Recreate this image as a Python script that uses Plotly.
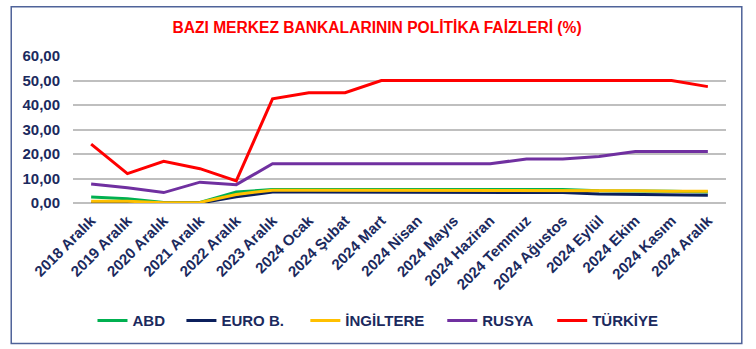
import plotly.graph_objects as go

categories = ["2018 Aralık", "2019 Aralık", "2020 Aralık", "2021 Aralık", "2022 Aralık",
              "2023 Aralık", "2024 Ocak", "2024 Şubat", "2024 Mart", "2024 Nisan",
              "2024 Mayıs", "2024 Haziran", "2024 Temmuz", "2024 Ağustos", "2024 Eylül",
              "2024 Ekim", "2024 Kasım", "2024 Aralık"]

abd = [2.50, 1.75, 0.25, 0.25, 4.50, 5.50, 5.50, 5.50, 5.50, 5.50, 5.50, 5.50, 5.50, 5.50, 5.00, 5.00, 4.75, 4.50]
euro = [0.00, 0.00, 0.00, 0.00, 2.50, 4.50, 4.50, 4.50, 4.50, 4.50, 4.50, 4.25, 4.25, 4.25, 3.65, 3.40, 3.40, 3.15]
ingiltere = [0.75, 0.75, 0.10, 0.25, 3.50, 5.25, 5.25, 5.25, 5.25, 5.25, 5.25, 5.25, 5.25, 5.00, 5.00, 5.00, 4.75, 4.75]
rusya = [7.75, 6.25, 4.25, 8.50, 7.50, 16.00, 16.00, 16.00, 16.00, 16.00, 16.00, 16.00, 18.00, 18.00, 19.00, 21.00, 21.00, 21.00]
turkiye = [24.00, 12.00, 17.00, 14.00, 9.00, 42.50, 45.00, 45.00, 50.00, 50.00, 50.00, 50.00, 50.00, 50.00, 50.00, 50.00, 50.00, 47.50]

series_names = ["ABD", "EURO B.", "İNGİLTERE", "RUSYA", "TÜRKİYE"]
series_values = [abd, euro, ingiltere, rusya, turkiye]
colors = ["#00B050", "#0B1F5C", "#FFC000", "#7030A0", "#FF0000"]
legend_ids = ["legend", "legend2", "legend3", "legend4", "legend5"]

W, H = 756, 349
ml, mr, mt, mb = 72.5, 30.1, 56.3, 146.3
pw = W - ml - mr
ph = H - mt - mb

def px_x(x):
    return (x - ml) / pw

def px_y(y):
    return (H - mb - y) / ph

navy = "#1B2A5E"
font_fam = "Liberation Sans, Arial, sans-serif"

fig = go.Figure()
for name, vals, col, lg in zip(series_names, series_values, colors, legend_ids):
    fig.add_trace(go.Scatter(
        x=categories, y=vals, name=name, mode="lines",
        line=dict(color=col, width=3),
        legend=lg,
    ))

legend_starts = [92, 181, 305, 442, 552]
layout_legends = {}
for lg, xs in zip(legend_ids, legend_starts):
    layout_legends[lg] = dict(
        x=px_x(xs), y=px_y(320), xanchor="left", yanchor="middle",
        orientation="h", bgcolor="rgba(0,0,0,0)", borderwidth=0,
        font=dict(family=font_fam, size=15, color=navy, weight="bold"),
        itemclick=False, itemdoubleclick=False,
    )

fig.update_layout(
    width=W, height=H,
    margin=dict(l=ml, r=mr, t=mt, b=mb, pad=0),
    paper_bgcolor="white", plot_bgcolor="white",
    separators=",.",
    showlegend=True,
    title=dict(
        text="BAZI MERKEZ BANKALARININ POLİTİKA FAİZLERİ (%)",
        x=px_x(376.7), xanchor="center", xref="paper",
        y=1 - 28 / H, yanchor="middle",
        font=dict(family=font_fam, size=15.6, color="#FF0000", weight="bold"),
    ),
    xaxis=dict(
        type="category", showgrid=False, showline=False, zeroline=False,
        tickangle=-45, ticks="", ticklabelstandoff=5,
        tickfont=dict(family=font_fam, size=15, color=navy, weight="bold"),
        range=[-0.5, len(categories) - 0.5],
    ),
    yaxis=dict(
        range=[0, 60], dtick=10, tickformat=".2f",
        showgrid=True, gridcolor="#BFBFBF", gridwidth=1.5,
        zeroline=True, zerolinecolor="#BFBFBF", zerolinewidth=1.5,
        showline=False, ticks="", ticklabelstandoff=12,
        tickfont=dict(family=font_fam, size=15, color=navy, weight="bold"),
    ),
    shapes=[dict(
        type="rect", xref="paper", yref="paper",
        x0=px_x(10.7), x1=px_x(741.7), y0=px_y(342.7), y1=px_y(7.3),
        line=dict(color="#4F6399", width=1.5), fillcolor="rgba(0,0,0,0)", layer="below",
    )],
    **layout_legends,
)

fig.write_html("out.html")
